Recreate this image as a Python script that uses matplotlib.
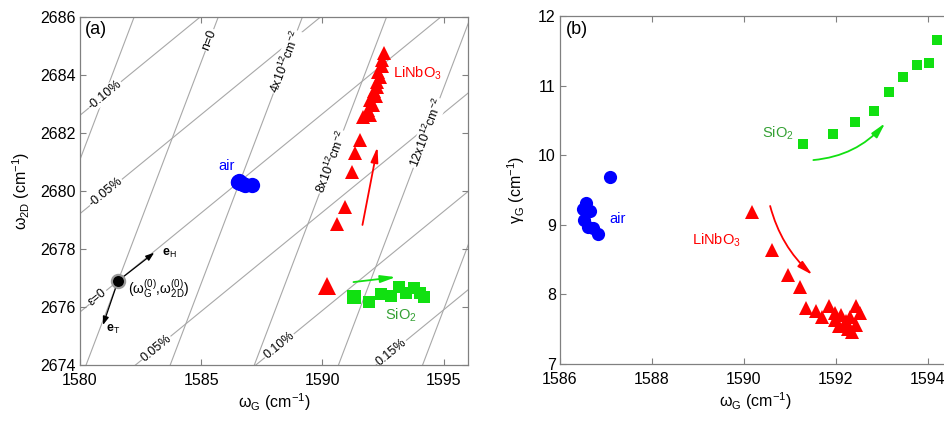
import numpy as np
import matplotlib.pyplot as plt

plt.rcParams['font.family'] = ['Liberation Sans', 'DejaVu Sans']
plt.rcParams['mathtext.fontset'] = 'custom'
plt.rcParams['mathtext.rm'] = 'Liberation Sans'
plt.rcParams['mathtext.it'] = 'Liberation Sans:italic'
plt.rcParams['mathtext.bf'] = 'Liberation Sans:bold'

air_wG = [1586.50, 1586.52, 1586.56, 1586.60, 1586.65, 1586.72, 1586.82, 1587.08]
air_w2D = [2680.32, 2680.30, 2680.33, 2680.28, 2680.27, 2680.24, 2680.22, 2680.20]
air_gG = [9.22, 9.07, 9.32, 8.97, 9.20, 8.95, 8.87, 9.69]

lnb_wG = [1590.18, 1590.60, 1590.95, 1591.22, 1591.35, 1591.56,
          1591.69, 1591.86, 1591.98, 1591.98, 1592.07, 1592.11, 1592.19,
          1592.23, 1592.27, 1592.31, 1592.36, 1592.44, 1592.44, 1592.52]
lnb_w2D = [2676.72, 2678.86, 2679.45, 2680.66, 2681.31, 2681.76,
           2682.55, 2682.79, 2682.62, 2683.14, 2682.97, 2683.45, 2683.28,
           2683.76, 2683.59, 2684.10, 2683.93, 2684.31, 2684.52, 2684.76]
lnb_gG = [9.19, 8.64, 8.28, 8.10, 7.81, 7.76,
          7.67, 7.83, 7.73, 7.63, 7.54, 7.70, 7.58,
          7.62, 7.50, 7.68, 7.46, 7.83, 7.56, 7.73]

sio2_wG = [1591.29, 1591.93, 1592.41, 1592.82, 1593.15, 1593.45, 1593.76, 1594.03, 1594.19]
sio2_w2D = [2676.36, 2676.18, 2676.45, 2676.38, 2676.70, 2676.47, 2676.64, 2676.49, 2676.36]
sio2_gG = [10.16, 10.30, 10.47, 10.64, 10.91, 11.12, 11.30, 11.32, 11.65]

# ---- strain / doping grid (vector model) ----
w0 = np.array([1581.57, 2676.9])       # unstrained, undoped point
e_T = np.array([-44.7, -98.4])         # shift per 1 % strain
e_H = np.array([12.58, 8.60])          # shift per 1e13 cm^-2 holes
strain_levels = [-0.10, -0.05, 0.0, 0.05, 0.10, 0.15]
strain_text = ['-0.10%', '-0.05%', 'ε=0', '0.05%', '0.10%', '0.15%']
strain_text_wG = [1581.03, 1581.07, 1580.74, 1583.14, 1588.22, 1592.85]
doping_levels = [-4, 0, 4, 8, 12, 16]   # 1e12 cm^-2
doping_text = {0: 'n=0', 4: r'4x10$^{12}$cm$^{-2}$',
               8: r'8x10$^{12}$cm$^{-2}$', 12: r'12x10$^{12}$cm$^{-2}$'}
doping_text_w2D = {0: 2685.21, 4: 2684.45, 8: 2681.0, 12: 2682.0}

BLUE, RED, GREEN, DKGREEN = '#0000ff', '#ff0000', '#11e011', '#34a034'
SPINE = '#808080'
GRID = '#a8a8a8'

fig = plt.figure(figsize=(9.44, 4.21), dpi=100)
ax1 = fig.add_axes([0.0847, 0.133, 0.411, 0.8266])
ax2 = fig.add_axes([0.5932, 0.1354, 0.4131, 0.8266])

for ax in (ax1, ax2):
    for s in ax.spines.values():
        s.set_color(SPINE)
        s.set_linewidth(0.9)
    ax.tick_params(direction='in', top=True, right=True, length=4, width=0.8,
                   color=SPINE, labelsize=11.5)
    ax.tick_params(axis='x', pad=6)
    ax.tick_params(axis='y', pad=3)

# ---------------- (a) ----------------
ax = ax1
ax.set_xlim(1580, 1596)
ax.set_ylim(2674, 2686)
ax.set_xticks([1580, 1585, 1590, 1595])
ax.set_yticks(np.arange(2674, 2687, 2))

s = np.array([-3.0, 3.0])
for eps in strain_levels:
    pts = w0 + eps * e_T + s[:, None] * e_H
    ax.plot(pts[:, 0], pts[:, 1], color=GRID, lw=0.8, zorder=1)
t = np.array([-0.3, 0.3])
for n in doping_levels:
    pts = w0 + n / 10 * e_H + t[:, None] * e_T
    ax.plot(pts[:, 0], pts[:, 1], color=GRID, lw=0.8, zorder=1)

box = dict(facecolor='white', edgecolor='none', pad=0.6)
ang_H = np.degrees(np.arctan2(e_H[1], e_H[0]))
ang_T = np.degrees(np.arctan2(-e_T[1], -e_T[0]))
for eps, txt, xg in zip(strain_levels, strain_text, strain_text_wG):
    sp = (xg - w0[0] - eps * e_T[0]) / e_H[0]
    yg = w0[1] + eps * e_T[1] + sp * e_H[1]
    ax.text(xg, yg, txt, fontsize=9, rotation=ang_H, transform_rotates_text=True,
            rotation_mode='anchor', ha='center', va='center', bbox=box, zorder=2)
for n, txt in doping_text.items():
    yg = doping_text_w2D[n]
    tp = (yg - w0[1] - n / 10 * e_H[1]) / e_T[1]
    xg = w0[0] + n / 10 * e_H[0] + tp * e_T[0]
    ax.text(xg, yg, txt, fontsize=9, rotation=ang_T, transform_rotates_text=True,
            rotation_mode='anchor', ha='center', va='center', bbox=box, zorder=2)

# reference point and unit vectors
ax.plot(w0[0], w0[1], 'o', color='black', markersize=9.5, mec='#9a9a9a', mew=1.6, zorder=5)
ax.annotate('', xy=(1583.06, 2677.87), xytext=(w0[0], w0[1]),
            arrowprops=dict(arrowstyle='-|>,head_length=0.5,head_width=0.18',
                            color='black', lw=0.9, shrinkA=3, shrinkB=0), zorder=4)
ax.annotate('', xy=(1580.95, 2675.38), xytext=(w0[0], w0[1]),
            arrowprops=dict(arrowstyle='-|>,head_length=0.5,head_width=0.18',
                            color='black', lw=0.9, shrinkA=3, shrinkB=0), zorder=4)
ax.text(1583.39, 2677.83, r'$\mathbf{e}_\mathrm{H}$', fontsize=9, va='center')
ax.text(1581.07, 2675.22, r'$\mathbf{e}_\mathrm{T}$', fontsize=9, va='center')
ax.text(1581.98, 2676.60, r'(ω$_\mathrm{G}^{(0)}$,ω$_\mathrm{2D}^{(0)}$)', fontsize=10, va='center')

ax.plot(air_wG, air_w2D, 'o', color=BLUE, markersize=11, mew=0, zorder=3)
ax.plot(lnb_wG[1:], lnb_w2D[1:], '^', color=RED, markersize=10.5, mew=0, zorder=3)
ax.plot(lnb_wG[:1], lnb_w2D[:1], '^', color=RED, markersize=13.5, mew=0, zorder=3)
ax.plot(sio2_wG[1:], sio2_w2D[1:], 's', color=GREEN, markersize=8.5, mew=0, zorder=3)
ax.plot(sio2_wG[:1], sio2_w2D[:1], 's', color=GREEN, markersize=10, mew=0, zorder=3)

arr = '-|>,head_length=0.9,head_width=0.22'
ax.annotate('', xy=(1592.27, 2681.52), xytext=(1591.65, 2678.83),
            arrowprops=dict(arrowstyle=arr, color=RED, lw=1.3, shrinkA=0, shrinkB=0))
ax.annotate('', xy=(1593.02, 2677.03), xytext=(1591.28, 2676.86),
            arrowprops=dict(arrowstyle=arr, color=GREEN, lw=1.3, shrinkA=0, shrinkB=0))

ax.text(1586.03, 2680.86, 'air', color=BLUE, fontsize=10.5, ha='center', va='center')
ax.text(1592.93, 2683.9, r'LiNbO$_3$', color=RED, fontsize=10.5, va='baseline')
ax.text(1592.60, 2675.55, r'SiO$_2$', color=DKGREEN, fontsize=10.5, va='baseline')
ax.text(0.013, 0.963, '(a)', transform=ax.transAxes, fontsize=13, va='center')

ax.set_xlabel(r'ω$_\mathrm{G}$ (cm$^{-1}$)', fontsize=11.5, labelpad=2)
ax.set_ylabel(r'ω$_\mathrm{2D}$ (cm$^{-1}$)', fontsize=11.5, labelpad=6)

# ---------------- (b) ----------------
ax = ax2
ax.set_xlim(1586, 1594.48)
ax.set_ylim(7, 12)
ax.set_xticks([1586, 1588, 1590, 1592, 1594])
ax.set_yticks([7, 8, 9, 10, 11, 12])

ax.plot(air_wG, air_gG, 'o', color=BLUE, markersize=9.5, mew=0, zorder=3)
ax.plot(lnb_wG, lnb_gG, '^', color=RED, markersize=10, mew=0, zorder=3)
ax.plot(sio2_wG, sio2_gG, 's', color=GREEN, markersize=7.5, mew=0, zorder=3)

ax.annotate('', xy=(1591.49, 8.28), xytext=(1590.57, 9.27),
            arrowprops=dict(arrowstyle=arr, color=RED, lw=1.3, shrinkA=0, shrinkB=0,
                            connectionstyle='arc3,rad=0.15'))
ax.annotate('', xy=(1593.07, 10.46), xytext=(1591.51, 9.93),
            arrowprops=dict(arrowstyle=arr, color=GREEN, lw=1.3, shrinkA=0, shrinkB=0,
                            connectionstyle='arc3,rad=0.2'))

ax.text(1587.07, 9.03, 'air', color=BLUE, fontsize=10.5, va='baseline')
ax.text(1588.87, 8.72, r'LiNbO$_3$', color=RED, fontsize=10.5, va='baseline')
ax.text(1590.39, 10.26, r'SiO$_2$', color=DKGREEN, fontsize=10.5, va='baseline')
ax.text(0.015, 0.96, '(b)', transform=ax.transAxes, fontsize=13, va='center')

ax.set_xlabel(r'ω$_\mathrm{G}$ (cm$^{-1}$)', fontsize=11.5, labelpad=2)
ax.set_ylabel(r'γ$_\mathrm{G}$ (cm$^{-1}$)', fontsize=11.5, labelpad=8)

fig.savefig('out.png', dpi=100)
